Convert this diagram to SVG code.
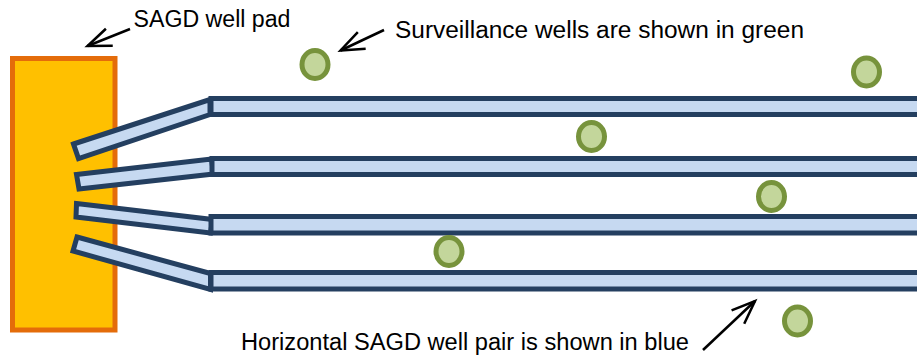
<svg xmlns="http://www.w3.org/2000/svg" width="917" height="356" viewBox="0 0 917 356">
<style>
.pad{fill:#FFC000;stroke:#E46C0A;stroke-width:5}
.well{fill:#C6D9F1;stroke:#243F60;stroke-width:5;stroke-linejoin:miter}
.obs{fill:#C3D69B;stroke:#77933C;stroke-width:5}
.lbl{font-family:"Liberation Sans",Arial,sans-serif;font-size:23.5px;fill:#000}
.arr{fill:none;stroke:#000;stroke-width:2.5;marker-end:url(#open)}
</style>
<defs>
<marker id="open" viewBox="0 0 26 20" refX="24.5" refY="10" markerWidth="26" markerHeight="20" markerUnits="userSpaceOnUse" orient="auto" overflow="visible">
<path d="M1,0.8 L24.5,10 L1,19.2" fill="none" stroke="#000" stroke-width="2.5" stroke-linejoin="miter"/>
</marker>
</defs>
<rect width="917" height="356" fill="#fff"/>
<g id="well-pad"><rect class="pad" x="12.5" y="58.5" width="102.5" height="271.5"/></g>
<g id="well-1">
<polygon class="well" points="73.5,144 210,99.5 210,114.5 78.5,158.5"/>
<rect class="well" x="211" y="98.5" width="720" height="16"/>
</g>
<g id="well-2">
<polygon class="well" points="76.5,174.5 211.5,159 213.5,174 79,189"/>
<rect class="well" x="212" y="158.5" width="720" height="16"/>
</g>
<g id="well-3">
<polygon class="well" points="76.5,203.5 212.5,219.5 210.5,233 76,217"/>
<rect class="well" x="211" y="216.5" width="720" height="16.5"/>
</g>
<g id="well-4">
<polygon class="well" points="77,237 210.5,273.5 210.5,289.5 73,251"/>
<rect class="well" x="211" y="272.5" width="720" height="16.5"/>
</g>
<g id="obs-1"><ellipse class="obs" cx="315" cy="64.5" rx="13" ry="14"/></g>
<g id="obs-2"><ellipse class="obs" cx="866.5" cy="72" rx="13" ry="14"/></g>
<g id="obs-3"><ellipse class="obs" cx="591.5" cy="136.5" rx="13" ry="14"/></g>
<g id="obs-4"><ellipse class="obs" cx="771.5" cy="196.5" rx="13" ry="14"/></g>
<g id="obs-5"><ellipse class="obs" cx="449" cy="251.5" rx="13" ry="14"/></g>
<g id="obs-6"><ellipse class="obs" cx="797.5" cy="321" rx="13" ry="14"/></g>
<g id="label-pad"><text class="lbl" x="133.5" y="26.7" textLength="157" lengthAdjust="spacingAndGlyphs">SAGD well pad</text></g>
<g id="label-obs"><text class="lbl" x="395" y="38" textLength="409" lengthAdjust="spacingAndGlyphs">Surveillance wells are shown in green</text></g>
<g id="label-well"><text class="lbl" x="241" y="350" textLength="448" lengthAdjust="spacingAndGlyphs">Horizontal SAGD well pair is shown in blue</text></g>
<g id="connectors">
<path class="arr" d="M130,29 L87.5,46"/>
<path class="arr" d="M384,30 L340.5,50.5"/>
<path class="arr" d="M703,350 L755,301"/>
</g>
</svg>
